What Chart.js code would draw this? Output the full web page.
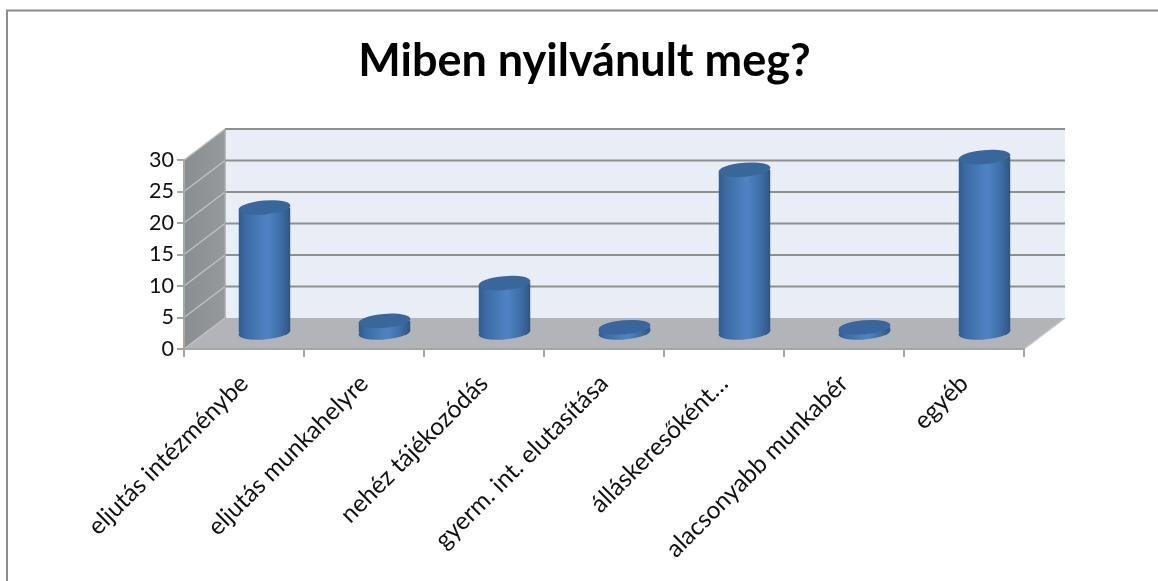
<!DOCTYPE html>
<html><head><meta charset="utf-8">
<style>html,body{margin:0;padding:0;background:#fff}canvas{display:block}</style>
<script src="https://cdn.jsdelivr.net/npm/chart.js@4"></script>
</head><body><canvas id="c" width="1158" height="581"></canvas>
<script>
const categories = ["eljutás intézménybe","eljutás munkahelyre","nehéz tájékozódás","gyerm. int. elutasítása","álláskeresőként…","alacsonyabb munkabér","egyéb"];
const values = [20,2,8,1,26,1,28];
const titleText = "Miben nyilvánult meg?";
const depthX = 41, depthY = -31, midF = 0.5, tilt = -0.085, ry = 7;
const FONT = "Lato, Carlito, sans-serif";

function cylGrad(ctx, cx, hw){
  const g = ctx.createLinearGradient(cx-hw,0,cx+hw,0);
  g.addColorStop(0,'#2f5a8b');
  g.addColorStop(0.12,'#3a6aa3');
  g.addColorStop(0.55,'#5083c4');
  g.addColorStop(0.8,'#3f6fa9');
  g.addColorStop(1,'#2f5481');
  return g;
}
const cyl = {
  id:'cyl',
  beforeDraw(chart){
    const {ctx,chartArea:a,scales:{y}} = chart;
    const L=a.left,R=a.right,T=y.getPixelForValue(30),B=y.getPixelForValue(0);
    ctx.save();
    ctx.strokeStyle='#8c8c8c';ctx.lineWidth=2;
    ctx.beginPath();ctx.moveTo(1158,10.5);ctx.lineTo(7,10.5);ctx.lineTo(7,581);ctx.stroke();
    ctx.fillStyle='#e8edf6';
    ctx.fillRect(L+depthX,T+depthY,R-L,B-T);
    const sg=ctx.createLinearGradient(L,0,L+depthX,0);
    sg.addColorStop(0,'#8b8e91');sg.addColorStop(1,'#96999c');
    ctx.fillStyle=sg;
    ctx.beginPath();ctx.moveTo(L,T);ctx.lineTo(L+depthX,T+depthY);ctx.lineTo(L+depthX,B+depthY);ctx.lineTo(L,B);ctx.closePath();ctx.fill();
    ctx.fillStyle='#b2b4b7';
    ctx.beginPath();ctx.moveTo(L,B);ctx.lineTo(R,B);ctx.lineTo(R+depthX,B+depthY);ctx.lineTo(L+depthX,B+depthY);ctx.closePath();ctx.fill();
    y.ticks.forEach(t=>{
      const p=y.getPixelForValue(t.value);
      ctx.strokeStyle='#bfc0c2';ctx.lineWidth=1.5;
      ctx.beginPath();ctx.moveTo(L,p);ctx.lineTo(L+depthX,p+depthY);ctx.stroke();
      if(t.value>0){
        ctx.strokeStyle='#8f8f8f';ctx.lineWidth=2;
        ctx.beginPath();ctx.moveTo(L+depthX,p+depthY);ctx.lineTo(R+depthX,p+depthY);ctx.stroke();
      }
    });
    ctx.strokeStyle='#a8a8a8';ctx.lineWidth=1.5;
    ctx.beginPath();ctx.moveTo(L+depthX,T+depthY);ctx.lineTo(L+depthX,B+depthY);ctx.stroke();
    ctx.strokeStyle='#c4c5c7';
    ctx.beginPath();ctx.moveTo(R,B);ctx.lineTo(R+depthX,B+depthY);ctx.stroke();
    ctx.restore();
  },
  beforeDatasetDraw(chart,args){
    const {ctx}=chart, dx=depthX*midF, dy=depthY*midF;
    const els=args.meta.data;
    els.forEach(e=>{
      const hw=e.width/2,cx=e.x+dx;
      ctx.fillStyle=cylGrad(ctx,cx,hw);
      ctx.beginPath();ctx.ellipse(cx,e.base+dy,hw,ry,tilt,0,Math.PI*2);ctx.fill();
    });
    ctx.save();
    ctx.translate(dx,dy);
    const s=Math.sin(tilt);
    ctx.beginPath();
    els.forEach(e=>{
      const hw=e.width/2,d=hw*s;
      ctx.moveTo(e.x-hw,e.y-d);ctx.lineTo(e.x+hw,e.y+d);
      ctx.lineTo(e.x+hw,e.base+d);ctx.lineTo(e.x-hw,e.base-d);ctx.closePath();
    });
    ctx.clip();
  },
  afterDatasetDraw(chart,args){
    const {ctx}=chart, dx=depthX*midF, dy=depthY*midF;
    ctx.restore();
    args.meta.data.forEach(e=>{
      const hw=e.width/2;
      ctx.fillStyle='#39669b';
      ctx.beginPath();ctx.ellipse(e.x+dx,e.y+dy,hw,ry,tilt,0,Math.PI*2);ctx.fill();
    });
  }
};
const barPct=0.433;
new Chart(document.getElementById('c'),{
  type:'bar',
  data:{labels:categories,datasets:[{data:values,barPercentage:barPct,categoryPercentage:1,borderWidth:0,
    backgroundColor(c){
      const x=c.chart.scales.x;
      const px=x?x.getPixelForValue(c.dataIndex):NaN;
      if(!Number.isFinite(px)||!x.width) return '#4a7ebb';
      const cw=x.width/categories.length;
      return cylGrad(c.chart.ctx,px,cw*barPct/2);
    }}]},
  options:{
    responsive:false,animation:false,devicePixelRatio:1,
    layout:{autoPadding:false,padding:{left:11,right:0,top:0,bottom:0}},
    plugins:{
      legend:{display:false},tooltip:{enabled:false},
      title:{display:true,text:titleText,color:'#000',font:{family:FONT,size:45,weight:'bold',lineHeight:1},padding:{top:39,bottom:76}}
    },
    scales:{
      x:{type:'category',offset:true,
        afterFit(s){s.height=232;},
        border:{color:'#a6a6a6',width:2},
        grid:{offset:true,drawOnChartArea:false,drawTicks:true,tickLength:8,color:'#a6a6a6',lineWidth:2},
        ticks:{color:'#111',font:{family:FONT,size:24.5},minRotation:45,maxRotation:45,autoSkip:false,padding:12}
      },
      y:{min:0,max:30,
        afterFit(s){s.width=173;},
        border:{color:'#a6a6a6',width:2},
        grid:{drawOnChartArea:false,drawTicks:true,tickLength:7,color:'#a6a6a6',lineWidth:2},
        ticks:{stepSize:5,color:'#111',font:{family:FONT,size:21.5},padding:3}
      },
      r:{position:'right',display:true,min:0,max:30,
        afterFit(s){s.width=134;},
        border:{display:false},grid:{display:false},ticks:{display:false}
      }
    }
  },
  plugins:[cyl]
});
</script></body></html>
